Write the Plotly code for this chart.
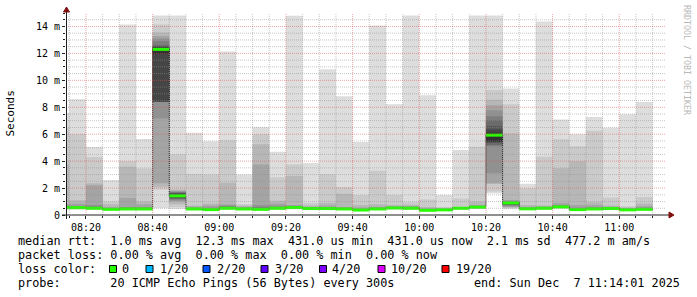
import plotly.graph_objects as go
import pandas as pd

# ---------------- data ----------------
day = "2025-12-07"
bar_start = ["08:10", "08:15", "08:20", "08:25", "08:30", "08:35", "08:40", "08:45", "08:50",
             "08:55", "09:00", "09:05", "09:10", "09:15", "09:20", "09:25", "09:30", "09:35",
             "09:40", "09:45", "09:50", "09:55", "10:00", "10:05", "10:10", "10:15", "10:20",
             "10:25", "10:30", "10:35", "10:40", "10:45", "10:50", "10:55", "11:00", "11:05"]

# median RTT per 5-minute step (ms)
median_ms = [0.55, 0.54, 0.50, 0.42, 0.45, 0.45, 12.3, 1.42, 0.45, 0.40, 0.50, 0.45,
             0.42, 0.50, 0.55, 0.48, 0.48, 0.45, 0.37, 0.45, 0.52, 0.50, 0.35, 0.38,
             0.50, 0.58, 5.93, 0.90, 0.46, 0.50, 0.60, 0.40, 0.45, 0.48, 0.38, 0.42]

# packet loss (out of 20) per step
loss_count = [0, 0, 0, 0, 0, 0, 0, 0, 0, 0, 0, 0, 0, 0, 0, 0, 0, 0,
              0, 0, 0, 0, 0, 0, 0, 0, 0, 0, 0, 0, 0, 0, 0, 0, 0, 0]

# 20 sorted ping RTTs per step (ms)
ping_ms = [
    [0.40, 0.45, 0.48, 0.50, 0.51, 0.52, 0.53, 0.54, 0.54, 0.55, 0.56, 0.57, 0.58, 0.60, 0.65, 0.72, 0.80, 3.80, 6.50, 7.55],
    [0.42, 0.45, 0.48, 0.50, 0.51, 0.52, 0.53, 0.53, 0.54, 0.54, 0.55, 0.56, 0.57, 0.58, 0.60, 0.70, 0.85, 1.10, 6.00, 8.60],
    [0.40, 0.42, 0.44, 0.46, 0.47, 0.48, 0.49, 0.49, 0.50, 0.50, 0.51, 0.52, 0.53, 0.55, 0.62, 0.75, 2.20, 2.35, 4.30, 5.05],
    [0.36, 0.38, 0.39, 0.40, 0.40, 0.41, 0.41, 0.42, 0.42, 0.42, 0.43, 0.43, 0.44, 0.45, 0.47, 0.50, 0.60, 0.80, 1.00, 2.60],
    [0.36, 0.38, 0.40, 0.41, 0.42, 0.43, 0.43, 0.44, 0.44, 0.45, 0.45, 0.46, 0.47, 0.48, 0.52, 0.60, 1.27, 3.58, 4.00, 14.15],
    [0.36, 0.38, 0.40, 0.41, 0.42, 0.43, 0.43, 0.44, 0.44, 0.45, 0.45, 0.46, 0.47, 0.48, 0.52, 0.60, 0.80, 1.00, 3.45, 5.65],
    [0.50, 1.90, 2.10, 2.35, 7.16, 8.40, 8.40, 8.40, 8.42, 11.95, 12.42, 12.50, 12.55, 12.60, 12.90, 13.10, 13.30, 13.55, 14.15, 14.81],
    [0.45, 0.60, 0.80, 1.00, 1.05, 1.15, 1.20, 1.25, 1.30, 1.35, 1.50, 1.58, 1.62, 1.66, 1.70, 1.75, 1.80, 1.88, 4.52, 14.81],
    [0.36, 0.38, 0.40, 0.41, 0.42, 0.43, 0.43, 0.44, 0.44, 0.45, 0.45, 0.46, 0.47, 0.48, 0.50, 0.55, 0.62, 0.70, 3.05, 6.10],
    [0.33, 0.35, 0.36, 0.37, 0.38, 0.38, 0.39, 0.39, 0.40, 0.40, 0.41, 0.41, 0.42, 0.44, 0.48, 0.55, 0.70, 0.85, 3.00, 5.47],
    [0.40, 0.42, 0.44, 0.46, 0.47, 0.48, 0.49, 0.49, 0.50, 0.50, 0.51, 0.52, 0.54, 0.58, 0.65, 0.70, 0.80, 2.40, 5.55, 12.15],
    [0.38, 0.40, 0.41, 0.42, 0.43, 0.43, 0.44, 0.44, 0.45, 0.45, 0.46, 0.46, 0.47, 0.48, 0.50, 0.55, 0.62, 0.70, 0.80, 3.00],
    [0.34, 0.36, 0.38, 0.39, 0.40, 0.41, 0.41, 0.42, 0.42, 0.42, 0.43, 0.44, 0.46, 0.50, 0.60, 0.75, 3.75, 5.25, 6.00, 6.52],
    [0.40, 0.42, 0.44, 0.46, 0.47, 0.48, 0.49, 0.49, 0.50, 0.50, 0.51, 0.52, 0.53, 0.55, 0.60, 0.70, 0.85, 1.05, 2.80, 4.70],
    [0.45, 0.47, 0.49, 0.50, 0.51, 0.52, 0.53, 0.54, 0.54, 0.55, 0.56, 0.57, 0.58, 0.60, 0.63, 0.68, 0.75, 2.90, 3.75, 14.80],
    [0.40, 0.42, 0.43, 0.44, 0.45, 0.46, 0.46, 0.47, 0.47, 0.48, 0.48, 0.49, 0.50, 0.52, 0.55, 0.58, 0.62, 0.70, 0.90, 3.87],
    [0.40, 0.42, 0.43, 0.44, 0.45, 0.46, 0.46, 0.47, 0.47, 0.48, 0.48, 0.49, 0.50, 0.52, 0.55, 0.60, 0.70, 0.90, 3.02, 10.82],
    [0.38, 0.40, 0.41, 0.42, 0.43, 0.43, 0.44, 0.44, 0.45, 0.45, 0.46, 0.46, 0.47, 0.49, 0.52, 0.56, 0.60, 1.57, 2.07, 8.82],
    [0.30, 0.32, 0.33, 0.34, 0.35, 0.35, 0.36, 0.36, 0.37, 0.37, 0.38, 0.38, 0.39, 0.40, 0.42, 0.46, 0.55, 0.75, 1.48, 5.43],
    [0.38, 0.40, 0.41, 0.42, 0.43, 0.43, 0.44, 0.44, 0.45, 0.45, 0.46, 0.46, 0.47, 0.48, 0.50, 0.55, 0.62, 0.80, 3.28, 14.07],
    [0.42, 0.44, 0.46, 0.47, 0.48, 0.49, 0.50, 0.51, 0.51, 0.52, 0.53, 0.53, 0.54, 0.55, 0.57, 0.60, 0.65, 0.75, 1.48, 8.22],
    [0.40, 0.42, 0.44, 0.46, 0.47, 0.48, 0.49, 0.49, 0.50, 0.50, 0.51, 0.52, 0.53, 0.54, 0.56, 0.60, 0.66, 0.75, 0.95, 14.81],
    [0.28, 0.30, 0.31, 0.32, 0.33, 0.33, 0.34, 0.34, 0.35, 0.35, 0.36, 0.36, 0.37, 0.38, 0.40, 0.44, 0.50, 0.60, 1.16, 8.89],
    [0.30, 0.32, 0.33, 0.34, 0.35, 0.36, 0.36, 0.37, 0.37, 0.38, 0.38, 0.39, 0.40, 0.41, 0.42, 0.44, 0.47, 0.52, 0.60, 1.48],
    [0.40, 0.42, 0.44, 0.46, 0.47, 0.48, 0.49, 0.49, 0.50, 0.50, 0.51, 0.52, 0.53, 0.55, 0.56, 0.57, 0.58, 0.60, 1.23, 4.82],
    [0.45, 0.48, 0.50, 0.52, 0.53, 0.54, 0.55, 0.56, 0.57, 0.58, 0.59, 0.60, 0.61, 0.62, 0.64, 0.68, 0.75, 0.99, 5.06, 14.81],
    [1.60, 1.75, 2.30, 2.35, 3.10, 5.10, 5.20, 5.35, 5.43, 5.45, 6.10, 6.35, 6.60, 7.04, 7.33, 7.78, 8.15, 8.55, 9.28, 14.81],
    [0.42, 0.50, 0.55, 0.60, 0.65, 0.70, 0.75, 0.80, 0.84, 0.88, 0.92, 0.94, 0.96, 0.98, 1.00, 1.05, 1.10, 6.05, 8.22, 9.40],
    [0.38, 0.40, 0.41, 0.42, 0.43, 0.44, 0.44, 0.45, 0.45, 0.46, 0.46, 0.47, 0.48, 0.49, 0.52, 0.56, 0.62, 0.75, 1.98, 2.32],
    [0.40, 0.42, 0.44, 0.46, 0.47, 0.48, 0.49, 0.49, 0.50, 0.50, 0.51, 0.52, 0.53, 0.54, 0.56, 0.60, 0.64, 0.70, 4.32, 14.37],
    [0.48, 0.50, 0.52, 0.54, 0.55, 0.56, 0.57, 0.58, 0.59, 0.60, 0.61, 0.62, 0.63, 0.65, 0.68, 0.75, 0.90, 3.47, 5.62, 7.10],
    [0.32, 0.34, 0.35, 0.36, 0.37, 0.38, 0.38, 0.39, 0.39, 0.40, 0.40, 0.41, 0.42, 0.44, 0.48, 0.55, 0.75, 4.00, 5.10, 6.00],
    [0.38, 0.40, 0.41, 0.42, 0.43, 0.43, 0.44, 0.44, 0.45, 0.45, 0.46, 0.46, 0.47, 0.49, 0.52, 0.60, 0.75, 0.95, 6.25, 7.28],
    [0.40, 0.42, 0.43, 0.44, 0.45, 0.46, 0.46, 0.47, 0.47, 0.48, 0.48, 0.49, 0.50, 0.52, 0.55, 0.58, 0.62, 0.70, 1.30, 6.48],
    [0.30, 0.32, 0.33, 0.34, 0.35, 0.36, 0.36, 0.37, 0.37, 0.38, 0.38, 0.39, 0.40, 0.41, 0.43, 0.46, 0.50, 0.56, 0.65, 7.48],
    [0.34, 0.36, 0.38, 0.39, 0.40, 0.41, 0.41, 0.42, 0.42, 0.42, 0.43, 0.44, 0.45, 0.47, 0.50, 0.56, 0.65, 0.86, 1.33, 8.40],
]

y_tick_vals = [0, 2, 4, 6, 8, 10, 12, 14]
y_tick_text = ["0", "2 m", "4 m", "6 m", "8 m", "10 m", "12 m", "14 m"]
x_tick_labels = ["08:20", "08:40", "09:00", "09:20", "09:40", "10:00", "10:20", "10:40", "11:00"]
view_start, view_end = "08:14:01", "11:14:01"

loss_labels = ["0", "1/20", "2/20", "3/20", "4/20", "10/20", "19/20"]
loss_colors = ["#26ff00", "#00b8ff", "#0059ff", "#5e00ff", "#7e00ff", "#dd00ff", "#ff0000"]

legend_rtt = "median rtt:  1.0 ms avg  12.3 ms max  431.0 us min  431.0 us now  2.1 ms sd  477.2 m am/s"
legend_loss = "packet loss: 0.00 % avg  0.00 % max  0.00 % min  0.00 % now"
legend_color = "loss color:"
legend_probe = "probe:       20 ICMP Echo Pings (56 Bytes) every 300s"
legend_end = "end: Sun Dec  7 11:14:01 2025"
watermark = "RRDTOOL / TOBI OETIKER"

# ---------------- layout geometry (pixels) ----------------
W, H = 697, 297
L, R, T, B = 66, 31, 13, 82
PW, PH = W - L - R, H - T - B
BOTTOM = H - B


def px(xp):
    return (xp - L) / PW


def py(yp):
    return (BOTTOM - yp) / PH


MONO = "DejaVu Sans Mono"
STEP = pd.Timedelta(minutes=5)

starts = pd.to_datetime([f"{day} {t}" for t in bar_start])
ends = starts + STEP
step_x = list(starts) + [ends[-1]]

fig = go.Figure()

# smoke bands (SmokePing style): band i spans ping i .. ping (21-i), drawn as step areas
n = 20
half = n // 2
for i in range(1, half + 1):
    c = int(190 / half * (half - i)) + 50
    color = "#%02x%02x%02x" % (c, c, c)
    lo = [p[i - 1] for p in ping_ms]
    hi = [p[n - i] for p in ping_ms]
    fig.add_trace(go.Scatter(x=step_x, y=lo + [lo[-1]], mode="lines",
                             line=dict(width=0, shape="hv", color=color),
                             hoverinfo="skip", showlegend=False))
    fig.add_trace(go.Scatter(x=step_x, y=hi + [hi[-1]], mode="lines",
                             line=dict(width=0, shape="hv", color=color),
                             fill="tonexty", fillcolor=color,
                             hoverinfo="skip", showlegend=False))

# median connector (thin dark dotted step)
fig.add_trace(go.Scatter(
    x=step_x, y=median_ms + [median_ms[-1]], mode="lines",
    line=dict(color="#202020", width=1, shape="hv", dash="1px,1px"),
    hoverinfo="skip", showlegend=False))

# median segments coloured by loss
seg_x, seg_y = [], []
for s, e, m in zip(starts, ends, median_ms):
    seg_x += [s, e, None]
    seg_y += [m, m, None]
fig.add_trace(go.Scatter(
    x=seg_x, y=seg_y, mode="lines", line=dict(color=loss_colors[0], width=3),
    hoverinfo="skip", showlegend=False))

shapes = []
# grid on top of data
grid_minor = "rgba(144,144,144,0.5)"
grid_major = "rgba(224,80,80,0.5)"
x0 = pd.Timestamp(f"{day} {view_start}")
x1 = pd.Timestamp(f"{day} {view_end}")
t = x0.ceil("5min")
while t <= x1:
    major = (t.minute % 20 == 0)
    shapes.append(dict(type="line", xref="x", yref="paper", x0=t, x1=t, y0=0, y1=1,
                       line=dict(color=grid_major if major else grid_minor, width=1, dash="1px,1px"),
                       layer="above"))
    t += STEP
k = 1
while k * 0.5 < 15:
    v = k * 0.5
    major = (v % 2 == 0)
    shapes.append(dict(type="line", xref="paper", yref="y", x0=0, x1=1, y0=v, y1=v,
                       line=dict(color=grid_major if major else grid_minor, width=1, dash="1px,1px"),
                       layer="above"))
    k += 1

# axes lines and arrows
axis_col = "#202020"
arrow_col = "#801010"
shapes.append(dict(type="line", xref="paper", yref="paper", x0=px(62), x1=px(670), y0=py(215), y1=py(215),
                   line=dict(color=axis_col, width=1), layer="above"))
shapes.append(dict(type="line", xref="paper", yref="paper", x0=px(66.5), x1=px(66.5), y0=py(219), y1=py(11),
                   line=dict(color=axis_col, width=1), layer="above"))
shapes.append(dict(type="path", xref="paper", yref="paper",
                   path=f"M {px(669)} {py(212)} L {px(674)} {py(215)} L {px(669)} {py(218)} Z",
                   fillcolor=arrow_col, line=dict(color=arrow_col, width=1), layer="above"))
shapes.append(dict(type="path", xref="paper", yref="paper",
                   path=f"M {px(63.5)} {py(12)} L {px(66.5)} {py(7)} L {px(69.5)} {py(12)} Z",
                   fillcolor=arrow_col, line=dict(color=arrow_col, width=1), layer="above"))

# legend boxes
box_left = [109.5, 146, 203, 261, 319.5, 378, 442]
label_left = [121, 158.5, 216, 273.5, 331, 390, 455]
annotations = []
for bl, ll, lab, col in zip(box_left, label_left, loss_labels, loss_colors):
    shapes.append(dict(type="rect", xref="paper", yref="paper",
                       x0=px(bl), x1=px(bl + 7), y0=py(272.5), y1=py(265.5),
                       fillcolor=col, line=dict(color="#000000", width=1)))
    annotations.append(dict(text=lab, x=px(ll), y=py(269), xref="paper", yref="paper",
                            xanchor="left", yanchor="middle", showarrow=False, borderpad=0,
                            font=dict(family=MONO, size=11.8, color="#000000")))


def nb(s):
    return s.replace(" ", "\u00a0")


legend_font = dict(family=MONO, size=11.8, color="#000000")
for txt, yy in [(legend_rtt, 241), (legend_loss, 255), (legend_color, 269), (legend_probe, 283)]:
    annotations.append(dict(text=nb(txt), x=px(16.5), y=py(yy), xref="paper", yref="paper",
                            xanchor="left", yanchor="middle", showarrow=False, borderpad=0,
                            font=legend_font))
annotations.append(dict(text=nb(legend_end), x=px(680.5), y=py(283), xref="paper", yref="paper",
                        xanchor="right", yanchor="middle", showarrow=False, borderpad=0,
                        font=legend_font))
annotations.append(dict(text="Seconds", x=px(10), y=py(113.5), xref="paper", yref="paper",
                        xanchor="center", yanchor="middle", textangle=-90, showarrow=False,
                        borderpad=0, font=dict(family=MONO, size=11, color="#000000")))
annotations.append(dict(text=nb(watermark), x=px(687), y=py(60), xref="paper", yref="paper",
                        xanchor="center", yanchor="middle", textangle=90, showarrow=False,
                        borderpad=0, font=dict(family=MONO, size=8.3, color="#b8b8b8")))

x_tick_vals = [pd.Timestamp(f"{day} {s}") for s in x_tick_labels]

fig.update_layout(
    width=W, height=H, margin=dict(l=L, r=R, t=T, b=B, pad=0),
    paper_bgcolor="#ffffff", plot_bgcolor="#ffffff",
    showlegend=False,
    shapes=shapes, annotations=annotations,
    xaxis=dict(type="date", range=[x0, x1], showgrid=False, zeroline=False, showline=False,
               tickvals=x_tick_vals, ticktext=x_tick_labels,
               ticks="outside", ticklen=3, tickcolor=axis_col, tickwidth=1,
               tickfont=dict(family=MONO, size=10, color="#000000"),
               minor=dict(dtick=300000, ticks="outside", ticklen=2, tickcolor=axis_col, showgrid=False)),
    yaxis=dict(range=[0, 15], showgrid=False, zeroline=False, showline=False,
               tickvals=y_tick_vals, ticktext=y_tick_text,
               ticks="outside", ticklen=3, tickcolor=axis_col, tickwidth=1,
               tickfont=dict(family=MONO, size=10, color="#000000"),
               minor=dict(dtick=0.5, ticks="outside", ticklen=2, tickcolor=axis_col, showgrid=False)),
)

fig.write_html("out.html", config={"displayModeBar": False})
